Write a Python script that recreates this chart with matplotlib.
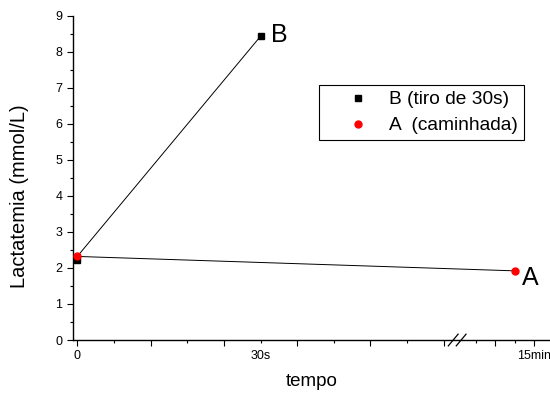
import matplotlib
matplotlib.use('Agg')
from matplotlib import pyplot as plt

plt.rcParams['font.family'] = ['Liberation Sans', 'DejaVu Sans']

# x em "segundos" antes da quebra do eixo; depois da quebra a escala e outra
x_b = [0, 30]
lact_b = [2.22, 8.43]
x_a = [0, 71.6]
lact_a = [2.32, 1.92]
label_b = 'B (tiro de 30s)'
label_a = 'A  (caminhada)'

x_major = [0, 12, 24, 36, 48, 60, 68.4, 74.75]
x_major_labels = ['0', '', '', '', '', '', '', '15min']
x_minor = [6, 18, 30, 42, 54, 65.25, 71.6]
x_minor_labels = ['', '', '30s', '', '', '', '']
x_break = 62.2

fig = plt.figure(figsize=(5.5, 3.94), dpi=100)
ax = fig.add_axes([0.1322, 0.137, 0.8678, 0.823])

# as duas retas saem do ponto inicial de A
ax.plot([x_a[0], x_b[1]], [lact_a[0], lact_b[1]], color='k', lw=0.7, zorder=2)
ax.plot(x_a, lact_a, color='k', lw=0.7, zorder=2)

hb, = ax.plot(x_b, lact_b, 's', color='k', ms=4.3, ls='none', zorder=3, label=label_b)
ha, = ax.plot(x_a, lact_a, 'o', color='red', ms=5, mec='red', ls='none', zorder=4, label=label_a)

ax.annotate('B', (x_b[1], lact_b[1]), xytext=(7.4, -4.1), textcoords='offset points',
            fontsize=18, va='baseline', ha='left')
ax.annotate('A', (x_a[1], lact_a[1]), xytext=(5, -10), textcoords='offset points',
            fontsize=18, va='baseline', ha='left')

ax.set_xlim(-0.75, 77.4)
ax.set_ylim(0, 9)
ax.set_yticks(range(10))
ax.set_yticks([i + 0.5 for i in range(9)], minor=True)
ax.set_xticks(x_major, labels=x_major_labels)
ax.set_xticks(x_minor, labels=x_minor_labels, minor=True)

ax.spines['top'].set_visible(False)
ax.spines['right'].set_visible(False)
ax.spines['left'].set_linewidth(1.0)
ax.spines['bottom'].set_linewidth(1.0)

ax.tick_params(which='major', direction='out', length=4.5, width=0.8, labelsize=9, pad=3)
ax.tick_params(which='minor', direction='out', length=2.3, width=0.8, labelsize=9)
ax.tick_params(axis='x', which='minor', pad=3 + 4.5 - 2.3)

# quebra do eixo x
for dx in (-0.65, 0.65):
    ax.plot([x_break + dx - 0.8, x_break + dx + 0.8], [-0.018, 0.018],
            transform=ax.get_xaxis_transform(), color='k', lw=0.9, clip_on=False)

ax.set_xlabel('tempo', fontsize=13.5)
ax.xaxis.set_label_coords(0.5, -0.102)
ax.set_ylabel('Lactatemia (mmol/L)', fontsize=14.5)
ax.yaxis.set_label_coords(-0.091, 0.4425)

leg = ax.legend(handles=[hb, ha], loc='upper left', bbox_to_anchor=(0.516, 0.785),
                borderaxespad=0, fontsize=13.8, borderpad=0.28, labelspacing=0.45,
                handlelength=3.56, handletextpad=-0.17, fancybox=False,
                edgecolor='k', framealpha=1, numpoints=1)
leg.get_frame().set_linewidth(0.8)

fig.savefig('out.png', dpi=100)
